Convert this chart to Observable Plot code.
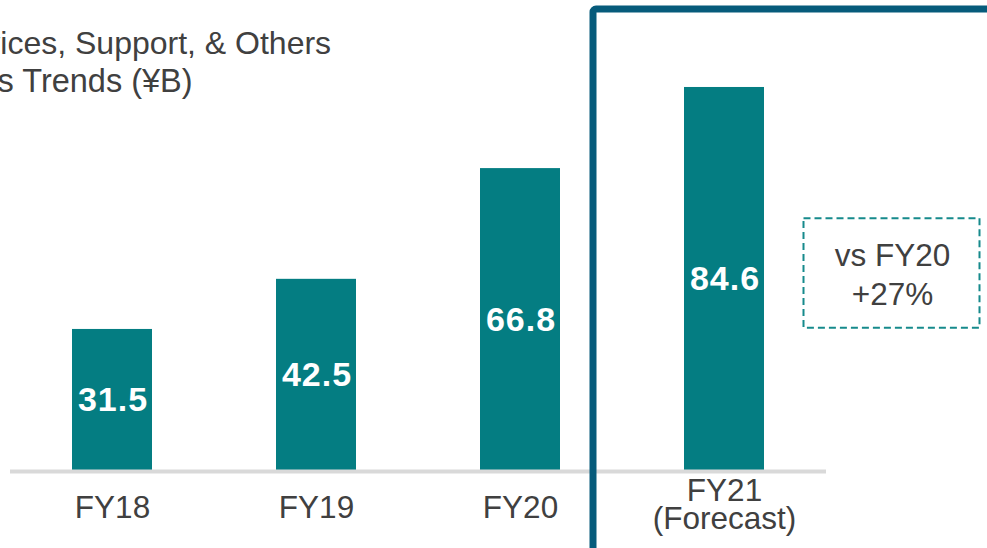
<!DOCTYPE html>
<html>
<head>
<meta charset="utf-8">
<script src="https://cdn.jsdelivr.net/npm/d3@7"></script>
<script src="https://cdn.jsdelivr.net/npm/@observablehq/plot@0.6"></script>
<style>
  html, body { margin: 0; padding: 0; background: #fff; overflow: hidden; }
  #chart { width: 987px; height: 548px; overflow: hidden; }
</style>
</head>
<body>
<div id="chart"></div>
<script>
const categories = ["FY18", "FY19", "FY20", "FY21"];
const tickLabels = ["FY18", "FY19", "FY20", "FY21\n(Forecast)"];
const values = [31.5, 42.5, 66.8, 84.6];
const titleLines = ["Services, Support, & Others", "Sales Trends (¥B)"];
const compareLabel = "vs FY20";

const data = categories.map((c, i) => ({cat: c, label: tickLabels[i], value: values[i]}));
const growth = Math.round((values[3] / values[2] - 1) * 100);
const boxText = `${compareLabel}\n+${growth}%`;

const FONT = "'Liberation Sans', Arial, sans-serif";
const GRAY = "#404040";
const TEAL = "#047D82";

const chart = Plot.plot({
  width: 987,
  height: 548,
  marginLeft: 10,
  marginRight: 161,
  marginTop: 17,
  marginBottom: 75.5,
  style: {fontFamily: FONT, overflow: "hidden", background: "#fff"},
  x: {domain: categories, range: [10.8, 825.2], paddingInner: 0.608, paddingOuter: 0.3, axis: null},
  y: {domain: [0, 100], range: [472.5, 16.8], axis: null},
  marks: [
    Plot.barY(data, {x: "cat", y: "value", fill: TEAL}),
    Plot.ruleY([0], {stroke: "#D9D9D9", strokeWidth: 4, dy: -1.5}),
    Plot.text(data, {
      x: "cat", y: d => d.value / 2, text: d => d.value.toFixed(1),
      fill: "white", fontSize: 34, fontWeight: "bold", lineAnchor: "middle",
      dx: 0.5, dy: -1
    }),
    Plot.text(data.filter(d => !d.label.includes("\n")), {
      x: "cat", y: 0, text: "label", fill: GRAY, fontSize: 31.5,
      lineAnchor: "bottom", dy: 45
    }),
    Plot.text(data.filter(d => d.label.includes("\n")), {
      x: "cat", y: 0, text: "label", fill: GRAY, fontSize: 31.5,
      lineAnchor: "bottom", lineHeight: 0.9, dy: 56
    }),
    Plot.text([boxText], {
      x: () => categories[3], y: 0, text: d => d, fill: GRAY, fontSize: 31.5,
      lineAnchor: "bottom", lineHeight: 1.22, dx: 168, dy: -168.5
    }),
    Plot.text([titleLines[0]], {
      frameAnchor: "top-left", text: d => d, fill: GRAY, fontSize: 32,
      textAnchor: "start", lineAnchor: "bottom", dx: -76, dy: 36
    }),
    Plot.text([titleLines[1]], {
      frameAnchor: "top-left", text: d => d, fill: GRAY, fontSize: 32.5,
      textAnchor: "start", lineAnchor: "bottom", dx: -78, dy: 74
    })
  ]
});

// annotations anchored on the FY21 band
const xs = chart.scale("x");
const x21 = xs.apply(categories[3]);
const svg = d3.select(chart);
svg.append("rect")
  .attr("x", x21 + 119.5).attr("y", 218.3)
  .attr("width", 176).attr("height", 109.4)
  .attr("fill", "none").attr("stroke", "#168A8C")
  .attr("stroke-width", 2).attr("stroke-dasharray", "7 4");
svg.append("rect")
  .attr("x", x21 - 91).attr("y", 9)
  .attr("width", 600).attr("height", 700)
  .attr("rx", 3).attr("ry", 3)
  .attr("fill", "none").attr("stroke", "#065B7B").attr("stroke-width", 7);

// bold value labels are slightly tracked in the original
svg.selectAll("text").filter(function() { return d3.select(this.parentNode).attr("font-weight") === "bold"; })
  .style("letter-spacing", "1px");

document.getElementById("chart").appendChild(chart);
</script>
</body>
</html>
